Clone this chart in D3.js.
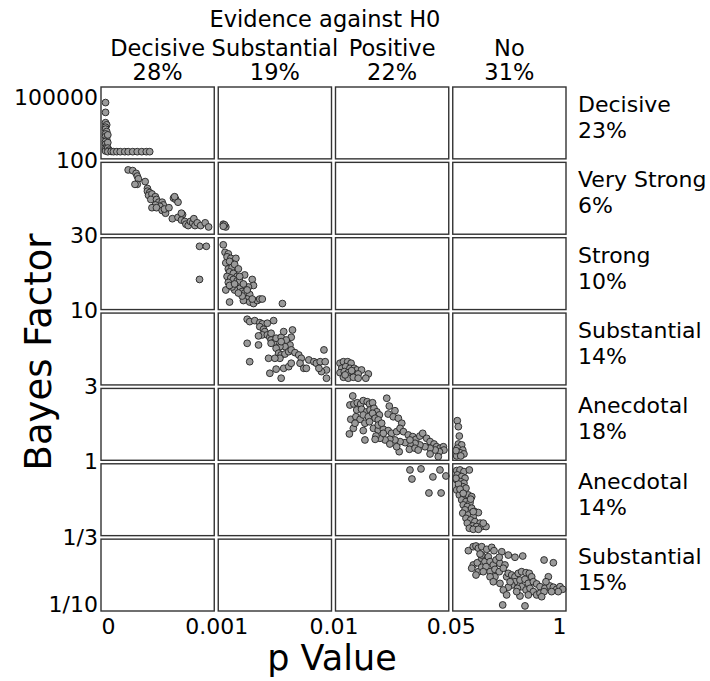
<!DOCTYPE html>
<html><head><meta charset="utf-8">
<script src="https://cdn.jsdelivr.net/npm/d3@7"></script>
<style>body{margin:0;background:#fff}svg{display:block}text{font-family:"DejaVu Sans",sans-serif;fill:#000}</style>
</head><body><svg id="chart" width="710" height="681"></svg>
<script>
// ---- categories & tick labels ----
const pBreaks=[0,0.001,0.01,0.05,1];
const pTickLabels=["0","0.001","0.01","0.05","1"];
const bfBreaks=[100000,100,30,10,3,1,1/3,1/10];
const bfTickLabels=["100000","100","30","10","3","1","1/3","1/10"];
const pCategories=["Decisive","Substantial","Positive","No"];
const pShares=["28%","19%","22%","31%"];
const bfCategories=["Decisive","Very Strong","Strong","Substantial","Anecdotal","Anecdotal","Substantial"];
const bfShares=["23%","6%","10%","14%","18%","14%","15%"];

// ---- data: [p value, log10 Bayes factor] ----
const testsDecisiveP=[
[0.00004,4.35],[0.00004,3.94],[0.00004,3.51],[0.00005,3.42],[0.00004,3.32],[0.00004,3.24],[0.00005,3.14],[0.00004,3.04],[0.00004,2.93],[0.00005,2.82],[0.00004,2.72],[0.00004,2.61],[0.00005,2.51],[0.00004,2.41],[0.00004,2.33],[0.00006,3.0],[0.00006,2.68],[0.00006,2.45],[0.00007,2.36],
[0.00006,2.30],[0.00009,2.31],[0.00011,2.30],[0.00014,2.30],[0.00017,2.30],[0.00021,2.30],[0.00024,2.30],[0.00028,2.30],[0.00032,2.30],[0.00036,2.30],[0.00040,2.30],[0.00043,2.30],
[0.00024,1.945],[0.00028,1.94],[0.00031,1.92],[0.00032,1.90],[0.00033,1.88],[0.00032,1.84],[0.00030,1.84],[0.00039,1.86],[0.00041,1.81],[0.00041,1.79],[0.00043,1.78],[0.00042,1.76],[0.00045,1.77],[0.00048,1.75],[0.00044,1.73],[0.00049,1.73],[0.00051,1.71],[0.00054,1.71],[0.00055,1.69],[0.00052,1.68],[0.00048,1.69],[0.00045,1.67],[0.00049,1.67],[0.00054,1.65],[0.00057,1.63],[0.00056,1.66],[0.00060,1.67],[0.00064,1.74],[0.00066,1.73],[0.00068,1.71],[0.00065,1.75],[0.00063,1.59],[0.00068,1.60],[0.00072,1.62],[0.00071,1.58],[0.00074,1.57],[0.00075,1.55],[0.00077,1.54],[0.00079,1.57],[0.00081,1.56],[0.00082,1.59],[0.00083,1.54],[0.00085,1.56],[0.00088,1.54],[0.00092,1.56],[0.00095,1.53],[0.00071,1.63],
[0.00087,1.42],[0.00093,1.42],[0.00087,1.20]
];
const testsSubstantialP=[
[0.0014,1.55],[0.0016,1.53],[0.0015,1.545],[0.0014,1.535],
[0.0014,1.43],[0.00154,1.38],[0.0018,1.37],[0.0017,1.35],[0.0020,1.34],[0.0024,1.34],[0.0016,1.31],[0.0019,1.32],[0.0018,1.27],[0.0021,1.28],[0.0023,1.30],[0.0026,1.27],[0.0019,1.25],[0.0022,1.24],[0.0025,1.22],[0.0017,1.22],[0.0020,1.21],[0.0022,1.20],[0.0018,1.18],[0.0025,1.19],[0.0027,1.19],[0.0031,1.23],[0.0037,1.20],[0.0038,1.16],[0.0034,1.15],[0.0030,1.15],[0.0027,1.14],[0.0023,1.13],[0.0021,1.15],[0.0016,1.13],[0.0019,1.16],[0.0029,1.12],[0.0031,1.11],[0.0035,1.10],[0.0033,1.07],[0.0030,1.06],[0.0035,1.05],[0.0038,1.04],[0.0041,1.06],[0.0043,1.07],[0.0045,1.07],[0.0037,1.07],[0.0029,1.09],[0.0026,1.11],[0.0019,1.05],[0.0061,1.04],[0.0023,1.17],[0.0027,1.22],[0.0030,1.17],[0.0033,1.13],
[0.0033,0.955],[0.0035,0.938],[0.0039,0.945],[0.0043,0.930],[0.0045,0.921],[0.0049,0.926],[0.0054,0.945],[0.0043,0.901],[0.0046,0.882],[0.0047,0.865],[0.0045,0.841],[0.0042,0.834],[0.0049,0.841],[0.0051,0.824],[0.0052,0.853],[0.0052,0.804],[0.0054,0.785],[0.0056,0.817],[0.0060,0.824],[0.0062,0.865],[0.0069,0.877],[0.0068,0.824],[0.0065,0.780],[0.0067,0.768],[0.0063,0.756],[0.0059,0.756],[0.0056,0.744],[0.0058,0.708],[0.0060,0.695],[0.0063,0.702],[0.0066,0.719],[0.0068,0.732],[0.0071,0.712],[0.0074,0.695],[0.0076,0.671],[0.0075,0.635],[0.0078,0.598],[0.0080,0.598],[0.0082,0.659],[0.0086,0.646],[0.0088,0.635],[0.0091,0.646],[0.0094,0.732],[0.0095,0.646],[0.0096,0.586],[0.0092,0.574],[0.0090,0.598],[0.0096,0.526],[0.0060,0.526],[0.0051,0.562],[0.0056,0.592],[0.0062,0.598],[0.0066,0.610],[0.0068,0.635],[0.0033,0.780],[0.0042,0.768],[0.0035,0.646],[0.0050,0.671],[0.0059,0.671],[0.0055,0.671],[0.0052,0.780],[0.0064,0.804],[0.0060,0.792]
];
const testsPositiveP=[
[0.0116,0.635],[0.0128,0.646],[0.0143,0.646],[0.0155,0.635],[0.0122,0.598],[0.0136,0.610],[0.0151,0.598],[0.0166,0.598],[0.0175,0.586],[0.0192,0.586],[0.0116,0.566],[0.0131,0.574],[0.0145,0.566],[0.0163,0.562],[0.0180,0.557],[0.0128,0.533],[0.0145,0.526],[0.0163,0.533],[0.0180,0.526],[0.0216,0.557],[0.0207,0.526],[0.0134,0.550],[0.0157,0.581],
[0.0161,0.427],[0.0151,0.367],[0.0165,0.374],[0.0177,0.382],[0.0189,0.374],[0.0198,0.396],[0.0212,0.389],[0.0220,0.374],[0.0231,0.382],[0.0281,0.412],[0.0175,0.334],[0.0192,0.339],[0.0210,0.322],[0.0222,0.334],[0.0236,0.345],[0.0246,0.322],[0.0255,0.301],[0.0154,0.272],[0.0172,0.289],[0.0187,0.272],[0.0198,0.301],[0.0216,0.289],[0.0231,0.312],[0.0240,0.279],[0.0251,0.268],[0.0290,0.360],[0.0310,0.329],[0.0286,0.307],[0.0304,0.289],[0.0322,0.279],[0.0334,0.246],[0.0163,0.212],[0.0198,0.197],[0.0234,0.212],[0.0251,0.201],[0.0269,0.206],[0.0286,0.197],[0.0298,0.179],[0.0316,0.190],[0.0328,0.212],[0.0340,0.190],[0.0357,0.168],[0.0373,0.157],[0.0384,0.139],[0.0398,0.161],[0.0408,0.179],[0.0422,0.146],[0.0434,0.124],[0.0448,0.108],[0.0457,0.090],[0.0469,0.080],[0.0481,0.090],[0.0483,0.068],[0.0467,0.057],[0.0452,0.068],[0.0434,0.080],[0.0416,0.090],[0.0398,0.102],[0.0381,0.113],[0.0363,0.108],[0.0346,0.117],[0.0328,0.124],[0.0310,0.135],[0.0292,0.139],[0.0275,0.135],[0.0257,0.146],[0.0243,0.161],[0.0149,0.175],[0.0204,0.135],[0.0240,0.139],[0.0325,0.057],[0.0361,0.073],[0.0381,0.080],[0.0434,0.042],[0.0463,0.024],[0.0392,0.068],[0.0316,0.090],[0.0292,0.108],[0.0269,0.179],[0.0363,0.135],[0.0251,0.234],[0.0169,0.246],[0.0204,0.246],[0.0220,0.256],[0.0263,0.246],
[0.0363,-0.041],[0.0402,-0.034],[0.0444,-0.087],[0.0469,-0.041],[0.0490,-0.081],[0.0430,-0.194],[0.0473,-0.194],[0.0370,-0.101]
];
const testsNoP=[
[0.088,0.263],[0.097,0.223],[0.105,0.161],[0.097,0.108],[0.125,0.102],[0.088,0.080],[0.134,0.068],[0.111,0.050],[0.144,0.042],[0.083,0.029],[0.117,0.029],[0.077,0.064],
[0.083,-0.045],[0.111,-0.041],[0.144,-0.052],[0.189,-0.041],[0.088,-0.074],[0.125,-0.085],[0.153,-0.096],[0.083,-0.107],[0.117,-0.119],[0.144,-0.129],[0.097,-0.147],[0.134,-0.152],[0.161,-0.162],[0.083,-0.174],[0.117,-0.185],[0.105,-0.207],[0.144,-0.218],[0.180,-0.207],[0.209,-0.218],[0.125,-0.240],[0.161,-0.251],[0.195,-0.258],[0.138,-0.273],[0.172,-0.284],[0.209,-0.295],[0.153,-0.306],[0.236,-0.318],[0.265,-0.324],[0.134,-0.328],[0.180,-0.340],[0.222,-0.351],[0.161,-0.362],[0.200,-0.373],[0.236,-0.384],[0.279,-0.394],[0.172,-0.394],[0.217,-0.413],[0.250,-0.417],[0.293,-0.417],[0.329,-0.417],[0.306,-0.394],[0.189,-0.428],[0.222,-0.435],[0.265,-0.435],[0.097,-0.134],[0.077,-0.096],[0.111,-0.169],[0.222,-0.318],[0.200,-0.235],[0.138,-0.196],
[0.181,-0.561],[0.222,-0.532],[0.245,-0.527],[0.265,-0.543],[0.293,-0.532],[0.335,-0.551],[0.377,-0.537],[0.396,-0.561],[0.461,-0.569],[0.516,-0.593],[0.572,-0.609],[0.637,-0.600],[0.816,-0.629],[0.894,-0.649],[0.222,-0.665],[0.256,-0.649],[0.293,-0.617],[0.320,-0.641],[0.348,-0.605],[0.363,-0.641],[0.390,-0.665],[0.413,-0.629],[0.446,-0.653],[0.488,-0.665],[0.265,-0.714],[0.293,-0.682],[0.329,-0.677],[0.363,-0.714],[0.404,-0.697],[0.440,-0.714],[0.474,-0.689],[0.502,-0.751],[0.516,-0.726],[0.545,-0.738],[0.572,-0.751],[0.600,-0.726],[0.628,-0.714],[0.665,-0.721],[0.692,-0.726],[0.712,-0.751],[0.572,-0.787],[0.614,-0.775],[0.656,-0.769],[0.684,-0.799],[0.726,-0.787],[0.754,-0.803],[0.782,-0.823],[0.823,-0.835],[0.865,-0.818],[0.894,-0.827],[0.922,-0.842],[0.950,-0.823],[0.972,-0.842],[0.935,-0.859],[0.852,-0.751],[0.832,-0.787],[0.628,-0.823],[0.665,-0.847],[0.698,-0.835],[0.726,-0.859],[0.754,-0.883],[0.782,-0.871],[0.816,-0.859],[0.592,-0.835],[0.545,-0.811],[0.516,-0.827],[0.446,-0.799],[0.474,-0.847],[0.404,-0.751],[0.363,-0.751],[0.245,-0.738],[0.293,-0.593],[0.440,-0.609],[0.684,-0.883],[0.502,-0.883],[0.614,-0.891],[0.469,-0.956],[0.656,-0.963],[0.586,-0.859],[0.796,-0.896],[0.879,-0.859],[0.531,-0.787],[0.390,-0.787],[0.279,-0.585],[0.209,-0.689],[0.306,-0.714]
];

// ---- layout ----
const svg=d3.select("#chart");
const plotL=101,plotR=566,plotT=87,plotB=611,colGap=4,rowGap=3.5;
const nC=pCategories.length,nR=bfCategories.length;
const cw=(plotR-plotL-(nC-1)*colGap)/nC;
const rh=(plotB-plotT-(nR-1)*rowGap)/nR;
const colX=d3.range(nC).map(i=>plotL+i*(cw+colGap));
const rowY=d3.range(nR).map(j=>plotT+j*(rh+rowGap));
const logB=bfBreaks.map(Math.log10);
const xScales=colX.map((x0,i)=>d3.scaleLinear().domain([pBreaks[i],pBreaks[i+1]]).range([x0,x0+cw]));
const yScales=rowY.map((y0,j)=>d3.scaleLinear().domain([logB[j+1],logB[j]]).range([y0+rh,y0]));

const allTests=[].concat(testsDecisiveP,testsSubstantialP,testsPositiveP,testsNoP).map(([p,l])=>{
  let c=d3.bisectRight(pBreaks,p)-1; c=Math.max(0,Math.min(nC-1,c));
  let r=0; for(let j=0;j<nR;j++){ if(l>=logB[j+1] && l<logB[j]){r=j;break;} }
  return {p,l,c,r};
});

// points
svg.append("g").selectAll("circle").data(allTests).join("circle")
  .attr("cx",d=>xScales[d.c](d.p)).attr("cy",d=>yScales[d.r](d.l)).attr("r",3.4)
  .attr("fill","#9a9a9a").attr("stroke","#222").attr("stroke-width",0.9);

// panel frames
const cells=[];
for(let j=0;j<nR;j++)for(let i=0;i<nC;i++)cells.push({i,j});
svg.append("g").selectAll("rect").data(cells).join("rect")
  .attr("x",d=>colX[d.i]).attr("y",d=>rowY[d.j]).attr("width",cw).attr("height",rh)
  .attr("fill","none").attr("stroke","#333").attr("stroke-width",1.4);

// x axis (piecewise scale at panel boundaries)
const xBound=[plotL].concat(colX.slice(1).map(x=>x-colGap/2),[plotR]);
const xAxisScale=d3.scaleLinear().domain(pBreaks).range(xBound);
const gx=svg.append("g").attr("transform",`translate(0,${plotB+3})`)
  .call(d3.axisBottom(xAxisScale).tickValues(pBreaks).tickFormat((d,i)=>pTickLabels[i]).tickSize(0).tickPadding(4));
gx.select(".domain").remove();
gx.selectAll("text").attr("font-size",22).attr("font-family","DejaVu Sans").attr("fill","#000")
  .attr("text-anchor",(d,i)=>i===0?"start":(i===pBreaks.length-1?"end":"middle"));

// y axis
const yBound=[plotT].concat(rowY.slice(1).map(y=>y-rowGap/2),[plotB]);
const yAxisScale=d3.scaleLinear().domain(logB).range(yBound);
const gy=svg.append("g").attr("transform",`translate(${plotL-3},0)`)
  .call(d3.axisLeft(yAxisScale).tickValues(logB).tickFormat((d,i)=>bfTickLabels[i]).tickSize(0).tickPadding(0));
gy.select(".domain").remove();
gy.selectAll("text").attr("font-size",22).attr("font-family","DejaVu Sans").attr("fill","#000")
  .attr("dy",(d,i)=>i===0?"0.8em":(i===logB.length-1?"0.0em":"0.3em"));

// column headers
svg.append("text").attr("x",325).attr("y",27).attr("text-anchor","middle").attr("font-size",22.5).text("Evidence against H0");
const colCenters=colX.map(x=>x+cw/2);
svg.append("g").selectAll("text").data(pCategories).join("text")
  .attr("x",(d,i)=>colCenters[i]).attr("y",56).attr("text-anchor","middle").attr("font-size",22.5).text(d=>d);
svg.append("g").selectAll("text").data(pShares).join("text")
  .attr("x",(d,i)=>colCenters[i]).attr("y",80).attr("text-anchor","middle").attr("font-size",22.5).text(d=>d);

// row labels
svg.append("g").selectAll("text").data(bfCategories).join("text")
  .attr("x",578).attr("y",(d,j)=>rowY[j]+25).attr("font-size",22).text(d=>d);
svg.append("g").selectAll("text").data(bfShares).join("text")
  .attr("x",578).attr("y",(d,j)=>rowY[j]+51).attr("font-size",22).text(d=>d);

// axis titles
svg.append("text").attr("transform","translate(51,352) rotate(-90)").attr("text-anchor","middle").attr("font-size",37).text("Bayes Factor");
svg.append("text").attr("x",332).attr("y",670).attr("text-anchor","middle").attr("font-size",35).text("p Value");
</script></body></html>
